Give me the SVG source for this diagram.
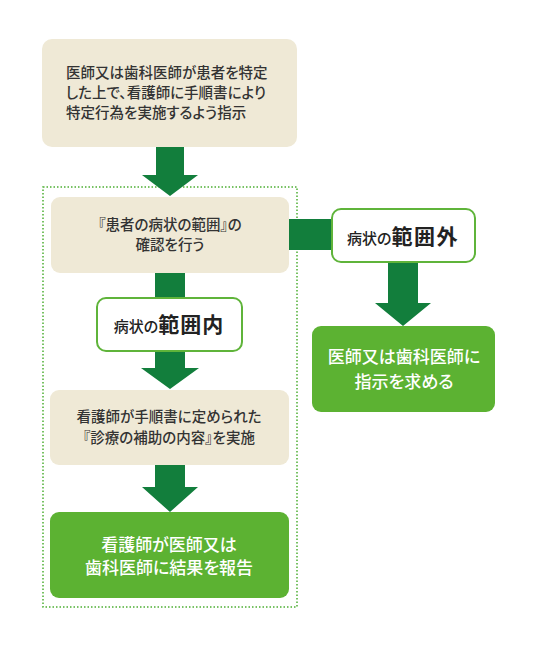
<svg xmlns="http://www.w3.org/2000/svg" width="550" height="654" viewBox="0 0 550 654">
<style>
text{font-family:"Noto Sans CJK JP","Noto Sans CJK SC",sans-serif;font-feature-settings:"palt";}
.beige{fill:#efe9d6;}
.green{fill:#5cb232;}
.label{fill:#ffffff;stroke:#5fb43a;stroke-width:2;}
.dark{fill:#333333;font-size:14.5px;font-weight:500;}
.white{fill:#ffffff;font-size:17px;font-weight:500;}
.lab{fill:#222;}
.arrow{fill:#127e3c;}
</style>
<rect width="550" height="654" fill="#ffffff"/>
<rect x="43" y="187" width="254" height="420" fill="none" stroke="#4cae32" stroke-width="1.5" stroke-dasharray="1.5 2"/>
<g id="connectors">
<polygon class="arrow" points="156,147 184,147 184,175 198,175 170,196 142,175 156,175"/>
<rect class="arrow" x="155" y="272" width="30" height="26"/>
<polygon class="arrow" points="155,350 185,350 185,368 199,368 170,389 141,368 155,368"/>
<polygon class="arrow" points="155,464 185,464 185,487 198,487 170,512 142,487 155,487"/>
<rect class="arrow" x="288" y="219" width="44" height="31"/>
<polygon class="arrow" points="388,261 418,261 418,303 431,303 403,326 375,303 388,303"/>
</g>
<g id="n1">
<rect class="beige" x="42" y="39" width="255" height="108" rx="10"/>
<text class="dark" x="66" y="78" font-size="15">医師又は歯科医師が患者を特定</text>
<text class="dark" x="66" y="98" font-size="15">した上で、看護師に手順書により</text>
<text class="dark" x="66" y="118" font-size="15">特定行為を実施するよう指示</text>
</g>
<g id="n2">
<rect class="beige" x="51" y="197" width="238" height="76" rx="9"/>
<text class="dark" x="170" y="230" text-anchor="middle">『患者の病状の範囲』の</text>
<text class="dark" x="170" y="250" text-anchor="middle">確認を行う</text>
</g>
<g id="n3">
<rect class="label" x="97" y="298" width="145" height="53" rx="9"/>
<text class="lab" x="169" y="332" text-anchor="middle"><tspan font-size="15" font-weight="500">病状の</tspan><tspan font-size="21" font-weight="700" letter-spacing="1">範囲内</tspan></text>
</g>
<g id="n4">
<rect class="beige" x="50" y="390" width="239" height="75" rx="9"/>
<text class="dark" x="169" y="422" text-anchor="middle">看護師が手順書に定められた</text>
<text class="dark" x="169" y="443" text-anchor="middle">『診療の補助の内容』を実施</text>
</g>
<g id="n5">
<rect class="green" x="50" y="512" width="239" height="86" rx="9"/>
<text class="white" x="169" y="551" text-anchor="middle">看護師が医師又は</text>
<text class="white" x="169" y="574" text-anchor="middle">歯科医師に結果を報告</text>
</g>
<g id="n6">
<rect class="label" x="332" y="209" width="143" height="53" rx="9"/>
<text class="lab" x="403" y="244" text-anchor="middle"><tspan font-size="15" font-weight="500">病状の</tspan><tspan font-size="21" font-weight="700" letter-spacing="1.5">範囲外</tspan></text>
</g>
<g id="n7">
<rect class="green" x="312" y="326" width="183" height="86" rx="9"/>
<text class="white" x="404" y="363" text-anchor="middle">医師又は歯科医師に</text>
<text class="white" x="404" y="388" text-anchor="middle">指示を求める</text>
</g>
</svg>
